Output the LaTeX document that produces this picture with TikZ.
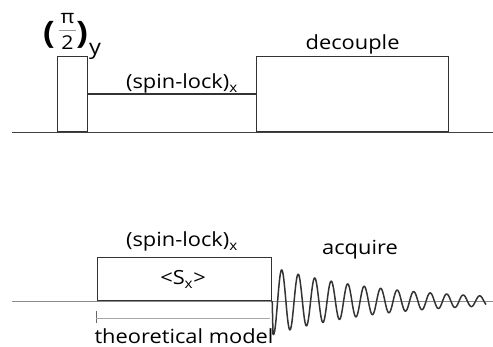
\documentclass[tikz,border=0pt]{standalone}
\usepackage{fontspec}
\setmainfont{Open Sans}[FakeStretch=1.12]
\usetikzlibrary{positioning}

\begin{document}
\begin{tikzpicture}[
    x=1pt, y=-1pt,
    pulse/.style={
        rectangle,
        draw=black!80,
        line width=1.2pt,
        inner sep=0pt,
        anchor=south west
    },
    lbl/.style={font=\fontsize{19.5}{21}\selectfont, inner sep=0pt, anchor=base},
    paren/.style={font=\fontsize{31}{33}\selectfont\bfseries, inner sep=0pt},
    frac/.style={font=\fontsize{19}{21}\selectfont, inner sep=0pt},
    base/.style={line width=0.9pt, draw=black!75},
    base2/.style={line width=0.8pt, draw=black!45},
    fid/.style={line width=1.5pt, draw=black!80, line join=round}
]
    \useasboundingbox (0,0) rectangle (493,347);

    % top: excitation, spin-lock and decoupling
    \draw[base] (12,132) -- (493,132);
    \node[pulse, minimum width=30pt, minimum height=75pt] (p90) at (57,132) {};
    \node[pulse, minimum width=192pt, minimum height=75pt] (dec) at (256,132) {};
    \coordinate (slA) at (87,94);
    \coordinate (slB) at (256,94);
    \draw[line width=1.2pt, draw=black!80] (slA) -- (slB);

    % (pi/2)_y
    \node[paren] (lpar) at (49,35) {(};
    \node[frac] (pinum) at (67.5,19) {π};
    \node[frac] (piden) at (67.5,42.5) {2};
    \node[paren] (rpar) at (82,35) {)};
    \node[lbl, font=\fontsize{21}{23}\selectfont] (ysub) at (95,55) {y};
    \coordinate (fracA) at (59,30.5);
    \coordinate (fracB) at (76,30.5);
    \draw[line width=0.6pt, draw=black!40] (fracA) -- (fracB);

    \node[lbl] (sllbl) at (182,89) {(spin-lock)\textsubscript{x}};
    \node[lbl, anchor=south, above=1pt of dec] (declbl) {decouple};

    % bottom: model of the spin-lock and acquisition
    \draw[base2] (12,301) -- (493,301);
    \node[pulse, minimum width=174pt, minimum height=43pt, fill=white] (slbox) at (97,301) {};
    \node[lbl] (sx) at (183,285) {<S\textsubscript{x}>};
    \node[lbl] (sllbl2) at (182,247) {(spin-lock)\textsubscript{x}};
    \node[lbl] (acq) at (360,254.5) {acquire};

    \draw[fid] (slbox.south east) -- plot[domain=1:214, samples=500, smooth]
        ({272+\x}, {301+34*exp(-\x/110)*cos(21.82*(\x-1.5))});

    \coordinate (tmA) at (96,311);
    \coordinate (tmB) at (96,323);
    \coordinate (tmC) at (270,318);
    \draw[line width=0.8pt, draw=black!60] (tmA) -- (tmB);
    \draw[line width=0.8pt, draw=black!35] (tmA |- tmC) -- (tmC);
    \node[lbl] (tmlbl) at (184,343.5) {theoretical model};
\end{tikzpicture}
\end{document}
